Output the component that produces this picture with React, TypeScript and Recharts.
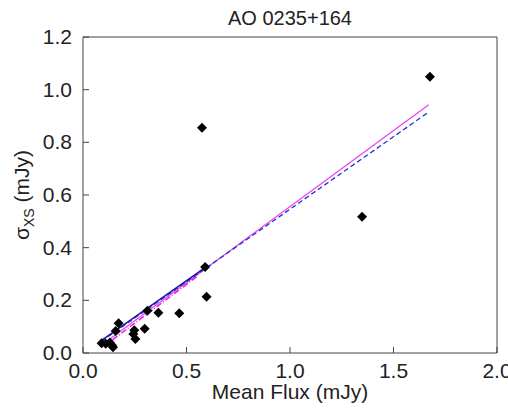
import { ComposedChart, Scatter, Line, XAxis, YAxis } from "recharts"

// measured points (mean flux vs sigma_xs), mJy
const fluxX = [0.09, 0.11, 0.13, 0.14, 0.145, 0.158, 0.172, 0.243, 0.248, 0.253, 0.298, 0.311, 0.364, 0.465, 0.575, 0.59, 0.597, 1.348, 1.676]
const sigmaY = [0.037, 0.035, 0.04, 0.029, 0.022, 0.084, 0.113, 0.072, 0.086, 0.053, 0.092, 0.16, 0.153, 0.151, 0.855, 0.327, 0.214, 0.517, 1.049]

// fit lines (endpoints)
const magentaFitX = [0.09, 1.67]
const magentaFitY = [0.03, 0.943]
const blueDashX = [0.09, 1.67]
const blueDashY = [0.045, 0.915]
const blueSolidX = [0.09, 0.6]
const blueSolidY = [0.048, 0.33]
const magentaDotX = [0.1, 0.55]
const magentaDotY = [0.025, 0.29]

const xTicks = [0, 0.5, 1.0, 1.5, 2.0]
const yTicks = [0, 0.2, 0.4, 0.6, 0.8, 1.0, 1.2]

const points = fluxX.map((x, i) => ({ x, y: sigmaY[i] }))
const toLine = (xs: number[], ys: number[]) => xs.map((x, i) => ({ x, y: ys[i] }))

const FONT = "'Liberation Sans', Arial, sans-serif"
const AXIS = "#444"
const TICK_LEN = 6
const TICK_GAP = 12

const Diamond = (props: any) => {
  const { cx, cy } = props
  const r = 5
  return <polygon points={`${cx},${cy - r} ${cx + r},${cy} ${cx},${cy + r} ${cx - r},${cy}`} fill="#000" />
}

// tick that draws its label plus a short mark pointing into the plot
const InTick = (props: any) => {
  const { x, y, payload, side, showText } = props
  const label = Number(payload.value).toFixed(1)
  const off = TICK_LEN + TICK_GAP
  let line = null
  if (side === "bottom") line = <line x1={x} x2={x} y1={y - off} y2={y - off - TICK_LEN} stroke={AXIS} />
  if (side === "top") line = <line x1={x} x2={x} y1={y + off} y2={y + off + TICK_LEN} stroke={AXIS} />
  if (side === "left") line = <line x1={x + off} x2={x + off + TICK_LEN} y1={y} y2={y} stroke={AXIS} />
  if (side === "right") line = <line x1={x - off} x2={x - off - TICK_LEN} y1={y} y2={y} stroke={AXIS} />
  return (
    <g>
      {line}
      {showText && (
        <text
          x={x}
          y={y}
          dx={side === "left" ? 7 : 0}
          dy={7}
          textAnchor={side === "left" ? "end" : "middle"}
          fontFamily={FONT}
          fontSize={21}
          fill="#222"
        >
          {label}
        </text>
      )}
    </g>
  )
}

const YLabel = () => (
  <text x={29} y={195} transform="rotate(-90 29 195)" textAnchor="middle" fontFamily={FONT} fontSize={21} fill="#222">
    σ
    <tspan fontSize={14} dy={5}>XS</tspan>
    <tspan dy={-5}> (mJy)</tspan>
  </text>
)

export default function App() {
  return (
    <div style={{ position: "absolute", left: 0, top: 0, width: 508, height: 409, background: "#fff" }}>
      <ComposedChart width={508} height={409} margin={{ top: 36, right: 10, bottom: 0, left: 0 }}>
        <XAxis
          xAxisId="b"
          dataKey="x"
          type="number"
          domain={[0, 2]}
          ticks={xTicks}
          tick={<InTick side="bottom" showText />}
          tickLine={false}
          tickSize={TICK_LEN}
          tickMargin={TICK_GAP}
          stroke={AXIS}
          height={56}
          allowDataOverflow
          label={{ value: "Mean Flux (mJy)", position: "insideBottom", offset: 10, fontSize: 21, fill: "#222", fontFamily: FONT }}
        />
        <XAxis
          xAxisId="t"
          orientation="top"
          dataKey="x"
          type="number"
          domain={[0, 2]}
          ticks={xTicks}
          tick={<InTick side="top" />}
          tickLine={false}
          tickSize={TICK_LEN}
          tickMargin={TICK_GAP}
          stroke={AXIS}
          height={1}
        />
        <YAxis
          yAxisId="l"
          type="number"
          domain={[0, 1.2]}
          ticks={yTicks}
          tick={<InTick side="left" showText />}
          tickLine={false}
          tickSize={TICK_LEN}
          tickMargin={TICK_GAP}
          stroke={AXIS}
          width={83}
          allowDataOverflow
          label={<YLabel />}
        />
        <YAxis
          yAxisId="r"
          orientation="right"
          type="number"
          domain={[0, 1.2]}
          ticks={yTicks}
          tick={<InTick side="right" />}
          tickLine={false}
          tickSize={TICK_LEN}
          tickMargin={TICK_GAP}
          stroke={AXIS}
          width={1}
        />
        <Line xAxisId="b" yAxisId="l" data={toLine(magentaFitX, magentaFitY)} dataKey="y" stroke="#ee44ee" strokeWidth={1.3} dot={false} isAnimationActive={false} />
        <Line xAxisId="b" yAxisId="l" data={toLine(magentaDotX, magentaDotY)} dataKey="y" stroke="#dd22dd" strokeWidth={1.5} strokeDasharray="6 2 1 2" dot={false} isAnimationActive={false} />
        <Line xAxisId="b" yAxisId="l" data={toLine(blueDashX, blueDashY)} dataKey="y" stroke="#2233cc" strokeWidth={1.3} strokeDasharray="5 3" dot={false} isAnimationActive={false} />
        <Line xAxisId="b" yAxisId="l" data={toLine(blueSolidX, blueSolidY)} dataKey="y" stroke="#1a1aaa" strokeWidth={1.6} dot={false} isAnimationActive={false} />
        <Scatter xAxisId="b" yAxisId="l" data={points} dataKey="y" shape={<Diamond />} isAnimationActive={false} />
        <text x={290} y={25} textAnchor="middle" fontFamily={FONT} fontSize={20} fill="#222">AO 0235+164</text>
      </ComposedChart>
    </div>
  )
}
